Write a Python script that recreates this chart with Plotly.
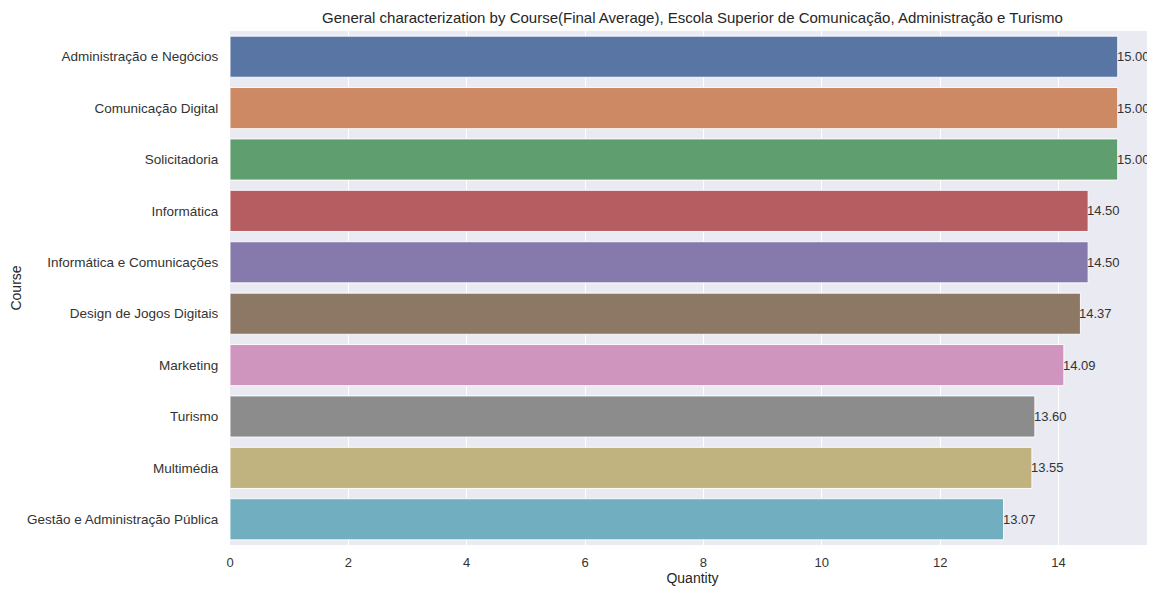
import plotly.graph_objects as go

courses = [
    "Administração e Negócios",
    "Comunicação Digital",
    "Solicitadoria",
    "Informática",
    "Informática e Comunicações",
    "Design de Jogos Digitais",
    "Marketing",
    "Turismo",
    "Multimédia",
    "Gestão e Administração Pública",
]
final_average = [15.00, 15.00, 15.00, 14.50, 14.50, 14.37, 14.09, 13.60, 13.55, 13.07]
bar_colors = ["#5975A4", "#CC8963", "#5F9E6E", "#B55D60", "#857AAB",
              "#8D7866", "#D095BF", "#8C8C8C", "#C1B37F", "#71AEC0"]
x_ticks = [0, 2, 4, 6, 8, 10, 12, 14]

FONT = "Liberation Sans, Arial, sans-serif"

# the page body adds an 8px offset; size the figure so it fills the 1155x592 view
W, H = 1147, 584

fig = go.Figure()
fig.add_trace(go.Bar(
    x=final_average,
    y=courses,
    orientation="h",
    width=0.8,
    marker=dict(color=bar_colors, line=dict(color="rgba(255,255,255,0.9)", width=1)),
    hoverinfo="x+y",
))

for course, v in zip(courses, final_average):
    fig.add_annotation(
        x=v, y=course, xref="x", yref="y",
        text=f"{v:.2f}", showarrow=False,
        xanchor="left", yanchor="middle", xshift=-1, yshift=0,
        borderpad=0, borderwidth=0,
        font=dict(family=FONT, size=13, color="#333333"),
    )

fig.update_layout(
    width=W,
    height=H,
    margin=dict(l=222, r=0, t=23, b=47, autoexpand=False),
    paper_bgcolor="white",
    plot_bgcolor="#EAEAF2",
    showlegend=False,
    title=dict(
        text="General characterization by Course(Final Average), Escola Superior de Comunicação, Administração e Turismo",
        x=0.5, xref="paper", xanchor="center",
        y=1 - 10 / H, yref="container", yanchor="middle",
        font=dict(family=FONT, size=15, color="#262626"),
    ),
    font=dict(family=FONT, size=13, color="#333333"),
    bargap=0.2,
)

fig.update_xaxes(
    range=[0, 15.63],
    tickvals=x_ticks,
    ticktext=[str(t) for t in x_ticks],
    showgrid=True, gridcolor="white", gridwidth=1.2,
    zeroline=False, showline=False, automargin=False,
    ticks="outside", ticklen=5, tickcolor="rgba(0,0,0,0)",
    tickfont=dict(family=FONT, size=13, color="#333333"),
    title=dict(text="Quantity", font=dict(family=FONT, size=14, color="#262626"), standoff=3),
)
fig.update_yaxes(
    categoryorder="array",
    categoryarray=courses,
    autorange="reversed",
    showgrid=False, zeroline=False, showline=False, automargin=False,
    ticks="outside", ticklen=8, tickcolor="rgba(0,0,0,0)",
    tickfont=dict(family=FONT, size=13.5, color="#333333"),
    title=dict(text="Course", font=dict(family=FONT, size=14, color="#262626"), standoff=3),
)

fig.write_html("out.html")
